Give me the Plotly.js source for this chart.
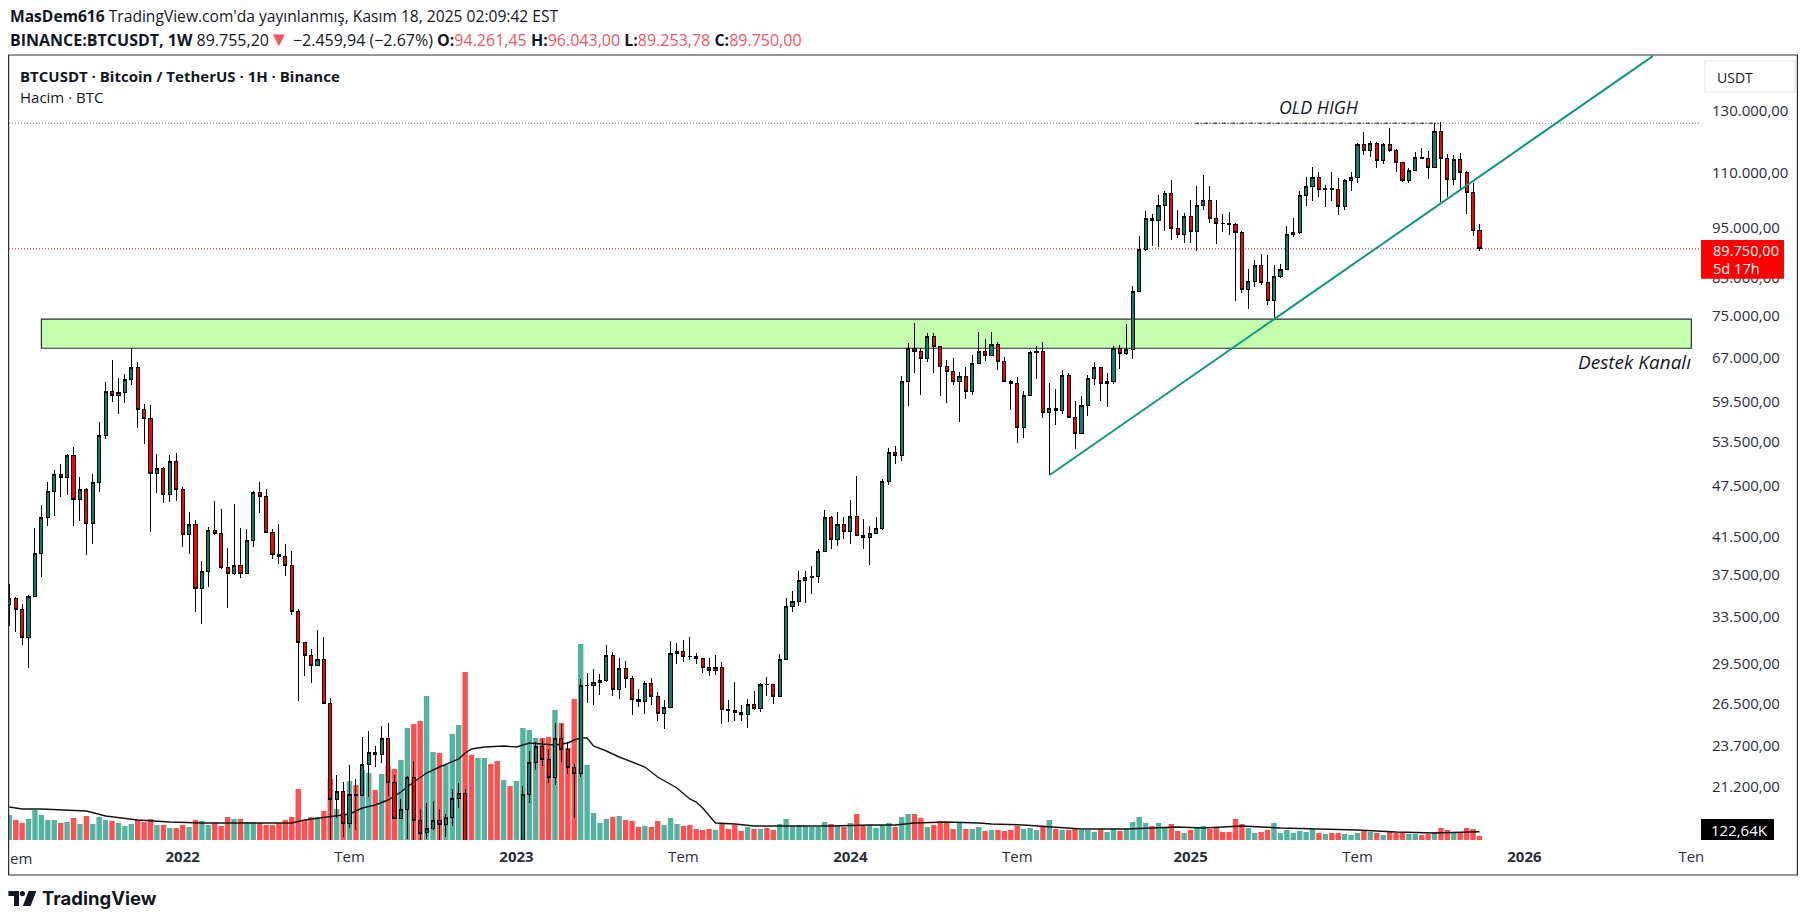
<!DOCTYPE html>
<html><head><meta charset="utf-8">
<script src="https://cdn.plot.ly/plotly-3.0.1.min.js"></script>
<style>html,body{margin:0;padding:0;background:#fff;overflow:hidden}#c{width:1806px;height:922px}.boxes path{shape-rendering:crispEdges}</style>
</head><body><div id="c"></div>
<script>
const firstWeek = '2021-06-28';
const opens = [34600,35170,34150,31670,35370,39680,43690,46850,49030,48630,
51610,45880,47100,43000,48020,54440,61250,60520,61000,63150,
65360,58320,56940,49170,49850,46480,50680,47100,41760,42880,
36120,37800,42190,41880,38200,37600,38340,37600,41080,46710,
46200,41950,39570,39360,38340,33930,31230,30180,29360,29870,
26500,20510,20960,19240,20800,20730,22520,23250,23100,24170,
21450,19500,19950,21770,19350,18760,18970,19400,19160,19520,
20560,20840,16340,16280,16440,17160,17100,16780,16830,16600,
17100,20780,22620,23610,22810,21750,24170,23450,22340,21950,
27830,27850,28060,28210,30160,27530,29140,28350,26820,26680,
27990,27030,25830,26250,30340,30500,30090,30050,29900,29220,
28960,29220,26110,26050,25880,25740,26460,26160,27920,27870,
27030,29860,34410,34880,36900,37200,37300,39880,43690,41190,
42870,42080,43810,41630,41410,41860,42420,48120,52010,51540,
62920,68730,68190,66910,70980,69110,65510,64630,62920,63770,
61260,66030,68190,67470,69480,66390,62920,62590,55620,60600,
68000,68100,57900,58520,58210,63940,57130,54730,59000,63430,
65330,62590,62800,68740,67830,68560,80100,89640,97410,96890,
100870,104160,94830,93320,97930,94070,100870,102220,97410,96120,
96000,95900,93820,80520,82260,85880,82040,78180,83370,84950,
93320,93820,103600,106130,108730,105300,105400,105300,100600,107860,
108730,118780,116880,119100,113790,118780,116880,113220,107870,110780,
114720,114500,111680,123000,114400,108150,114090,110210,104430,94261];
const highs = [36540,35300,34600,35500,42470,45170,48020,49640,50380,51740,
52790,48740,47240,49030,56390,62770,66700,63400,64110,68800,
66210,59180,59020,51740,49990,51610,51870,47360,44340,43350,
38860,42540,45680,44650,40200,45260,42470,42310,46850,48020,
47100,42310,42880,40630,39870,34150,31230,30680,32300,31700,
26940,21860,21500,22460,21680,24210,24640,23670,24950,25150,
21860,20550,21830,22710,19970,20330,20400,19970,19690,21060,
21430,21060,17200,16700,17300,18300,17300,17100,16970,17400,
21260,23340,23890,24140,23460,25150,25130,23890,22520,28280,
28740,29060,28670,31000,30440,29950,29680,28550,27540,28170,
28370,27330,26760,31330,31190,31410,31700,30370,29950,29930,
30210,29640,26760,28090,26410,26840,27420,28000,28470,27920,
30260,35190,35860,37800,37800,38310,40090,44510,43800,44280,
43690,45730,48810,43450,42650,43690,48380,52570,52850,63770,
69720,73500,68730,71550,71570,69200,66570,66980,64460,65390,
67470,71760,70480,71760,69860,67100,63090,63600,61260,68190,
69110,69860,62590,61580,64800,64280,59690,60440,63940,66210,
65400,64280,69110,69300,73300,81250,92900,99340,98460,103600,
104730,107860,99520,98720,102220,106130,109420,106130,102220,98460,
99020,96200,94100,84950,87040,88440,88220,85880,86100,95340,
97410,104730,108730,111690,110200,106420,110200,108440,108100,110200,
119100,122660,119750,119500,119100,123990,117200,113400,111390,116270,
117510,116580,125660,126200,115640,115330,115940,110500,106980,96043];
const lows = [32650,32080,30980,29190,35260,37270,42730,43840,46180,46440,
42730,43300,39530,40710,46810,53850,59550,57620,59360,62220,
55570,53230,41950,46650,45370,45510,45640,40390,39640,33930,
32860,36250,41650,38020,34280,37380,37100,37500,40390,44190,
41850,39100,38530,37340,33640,26710,28530,28040,29300,26450,
17600,19520,18560,18990,18890,20700,20630,22380,22600,20690,
19450,19460,18450,18300,18130,18440,18900,18200,18560,19100,
20040,15600,15800,15400,16000,16900,16300,16550,16300,16500,
17000,20330,22200,22400,21430,21310,22640,21920,19530,21800,
26560,26440,27130,28090,27060,26830,27610,25740,26300,25810,
26440,25330,24790,26240,29440,29670,29830,29440,28800,28570,
28660,25120,25260,25330,25330,24850,26090,25940,27080,26510,
27020,29860,33920,34470,34750,35600,36670,39880,40170,40490,
41260,40710,41530,40170,38480,41780,42190,47690,50410,50860,
58890,64400,60650,66270,64400,60490,59370,62350,56420,60010,
60690,65950,66450,67400,64860,62810,58270,53330,54060,60550,
63250,57030,48900,55920,57640,57100,52480,54580,57330,62250,
59690,58730,62410,64980,67470,66800,80000,89330,90520,90280,
94070,92000,92320,91260,91260,89170,99520,96120,91010,93820,
93240,78110,79810,76460,80950,81380,77140,74300,82930,84950,
92750,93320,100600,101950,103050,100330,101950,98200,99520,104930,
107190,115440,114720,111570,112570,116480,110400,107280,106980,110490,
114090,108340,111400,101850,103050,106420,105270,98620,92800,89254];
const closes = [35170,34150,31670,35370,39680,43690,46850,49030,48630,51610,
45880,47100,43000,48020,54440,61250,60520,61000,63150,65360,
58320,56940,49170,49850,46480,50680,47100,41760,42880,36120,
37800,42190,41880,38200,37600,38340,37600,41080,46710,46200,
41950,39570,39360,38340,33930,31230,30180,29360,29870,26500,
20510,20960,19240,20780,20730,22520,23250,23100,24170,21450,
19500,19950,21770,19350,18710,18970,19400,19160,19520,20560,
20840,16300,16280,16440,17160,17100,16780,16830,16600,17100,
20780,22620,23610,22810,21750,24170,23450,22340,21950,27830,
27850,28060,28210,30160,27530,29140,28350,26820,26680,27990,
27030,25830,26250,30340,30500,30090,30050,29900,29220,28960,
29220,26110,26050,25880,25740,26460,26160,27920,27870,27030,
29860,34410,34880,36900,37200,37300,39880,43690,41190,42870,
42080,43810,41630,41410,41860,42420,48120,52010,51540,62920,
68730,68190,66910,70980,69110,65510,64630,62920,63770,61260,
66030,68190,67470,69480,66390,62920,62590,55620,60600,68010,
68100,57900,58520,58210,63940,57130,54730,59000,63430,65330,
62590,62800,68740,67830,68560,80100,89640,97410,96890,100870,
104160,94830,93320,97930,94070,100870,102220,97410,96120,96000,
95900,93820,80520,82260,85880,82040,78180,83370,84950,93320,
93820,103600,106130,108730,105290,105400,105300,100600,107860,108730,
118780,116880,119100,113790,118780,116880,113220,107870,110780,114720,
114500,111680,123000,114400,108150,114090,110210,104430,94261,89750];
const volumeK = [375,300,255,315,450,375,300,300,255,270,
330,240,360,240,345,300,285,255,210,240,
300,270,315,225,225,180,180,225,195,300,
285,225,255,210,345,315,315,270,270,255,
225,225,255,300,345,765,300,345,345,435,
915,465,390,885,825,1050,1005,750,990,1110,
1065,1200,1680,1740,1785,2160,1320,1305,1125,1590,
1725,2520,1275,1230,1230,1140,1185,900,810,885,
1680,1650,1530,1530,1545,1950,1755,1380,2115,2940,
1125,405,255,315,345,360,300,285,195,210,
195,285,225,330,240,210,225,165,150,165,
150,240,165,225,135,195,165,165,180,150,
240,315,210,225,210,195,195,270,240,210,
195,255,390,210,225,180,225,255,195,345,
390,390,330,195,225,285,270,165,255,165,
165,195,135,150,150,135,150,210,165,180,
150,195,300,165,150,150,165,150,150,120,
165,120,165,135,165,270,345,255,210,255,
195,240,135,105,150,180,210,165,180,120,
120,315,240,180,105,120,150,255,105,150,
105,135,120,165,105,90,105,105,90,75,
105,135,120,105,75,120,105,105,90,90,
75,90,120,180,150,105,105,180,165,60];
const maWeek = [0,2,5,10,12,15,20,25,30,40,44,46,50,53,55,57,59,61,63,65,67,69,70,71,72,74,77,79,80,81,83,85,87,88,89,90,91,93,95,97,99,101,104,106,107,108,109,110,113,116,122,128,134,138,141,146,151,153,158,162,167,174,177,182,186,192,198,204,210,216,222,229];
const maK = [495,465,465,450,435,360,300,270,255,255,255,300,345,390,480,525,600,720,870,1005,1095,1170,1215,1305,1365,1395,1410,1395,1425,1455,1440,1425,1455,1500,1530,1530,1410,1335,1245,1170,1095,945,780,615,570,480,360,255,240,210,210,210,225,225,255,270,255,240,225,195,165,165,180,195,180,210,180,165,150,120,105,122.64];
const priceTicks = [130000,110000,95000,83000,75000,67000,59500,53500,47500,41500,37500,33500,29500,26500,23700,21200];
const priceTickText = ['130.000,00','110.000,00','95.000,00','83.000,00','75.000,00','67.000,00','59.500,00','53.500,00','47.500,00','41.500,00','37.500,00','33.500,00','29.500,00','26.500,00','23.700,00','21.200,00'];
const timeTicks = ['2022-01-03','2022-07-04','2023-01-02','2023-07-03','2024-01-01','2024-07-01','2025-01-06','2025-07-07','2026-01-05','2026-07-06'];
const timeTickText = ['<b>2022</b>','Tem','<b>2023</b>','Tem','<b>2024</b>','Tem','<b>2025</b>','Tem','<b>2026</b>','Ten'];
const oldHigh = 125700, lastPrice = 89750, zoneLow = 68750, zoneHigh = 74350;
const trendDates = ['2024-08-05','2026-05-25'], trendPrices = [48900,150500];

const UP='#07806d', DOWN='#ff0000', VUP='#53b3a0', VDOWN='#ff5050', INK='#131722', AXIS='#2a2e39', FONT='"Open Sans", sans-serif';
const dates = opens.map((_,i)=>{const d=new Date(firstWeek+'T00:00:00Z');d.setUTCDate(d.getUTCDate()+7*i);return d.toISOString().slice(0,10);});

const L=9,R=1700,T=55,B=840;
const X=p=>(p-L)/(R-L), Y=p=>(B-p)/(B-T);
const txt=(x,y,text,size,extra)=>Object.assign({xref:'paper',yref:'paper',x:X(x),y:Y(y),text,showarrow:false,xanchor:'left',yanchor:'middle',font:{family:FONT,size,color:INK},bgcolor:'rgba(0,0,0,0)',borderpad:0},extra||{});
const box=(x0,y0,x1,y1,fill,line,lw)=>({type:'rect',layer:'above',xref:'paper',yref:'paper',x0:X(x0),x1:X(x1),y0:Y(y0),y1:Y(y1),fillcolor:fill,line:{color:line||fill,width:lw===undefined?0:lw}});
const poly=(pts,fill)=>({type:'path',layer:'above',xref:'paper',yref:'paper',path:'M'+pts.map(p=>X(p[0])+','+Y(p[1])).join(' L')+' Z',fillcolor:fill,line:{width:0}});

const traces=[
 {type:'bar',x:dates,y:volumeK,xaxis:'x',yaxis:'y',marker:{color:opens.map((o,i)=>closes[i]>=o?VUP:VDOWN),line:{width:0}},hoverinfo:'skip'},
 {type:'scatter',mode:'lines',x:maWeek.map(i=>dates[i]),y:maK,xaxis:'x',yaxis:'y',line:{color:'#131313',width:1.4},hoverinfo:'skip'},
 {type:'candlestick',x:dates,open:opens,high:highs,low:lows,close:closes,xaxis:'x',yaxis:'y2',whiskerwidth:0,
  increasing:{line:{color:'#000',width:1},fillcolor:UP},decreasing:{line:{color:'#000',width:1},fillcolor:DOWN},hoverinfo:'skip'},
 {type:'scatter',mode:'lines',x:trendDates,y:trendPrices,xaxis:'x',yaxis:'y2',line:{color:'#089981',width:2},hoverinfo:'skip'}
];
const red='#f7525f';
const layout={width:1806,height:922,autosize:false,showlegend:false,paper_bgcolor:'#fff',plot_bgcolor:'#fff',
 margin:{l:L,r:1806-R,t:T,b:922-B,pad:0},bargap:0.16,dragmode:false,hovermode:false,
 xaxis:{type:'date',range:['2021-06-27 16:00','2026-07-15 11:00'],rangeslider:{visible:false},showgrid:false,zeroline:false,showline:false,
  tickmode:'array',tickvals:timeTicks,ticktext:timeTickText,ticks:'outside',ticklen:3,tickcolor:'rgba(0,0,0,0)',tickfont:{family:FONT,size:15,color:AXIS}},
 yaxis:{range:[0,11775],showgrid:false,zeroline:false,showline:false,showticklabels:false,ticks:'',fixedrange:true},
 yaxis2:{type:'log',overlaying:'y',side:'right',anchor:'x',range:[4.26452,5.1788],showgrid:false,zeroline:false,showline:false,
  tickmode:'array',tickvals:priceTicks,ticktext:priceTickText,ticks:'outside',ticklen:8,tickcolor:'rgba(0,0,0,0)',tickfont:{family:FONT,size:15,color:AXIS},fixedrange:true},
 shapes:[
  {type:'rect',layer:'below',xref:'x',yref:'y2',x0:'2021-08-02',x1:'2026-07-06',y0:zoneLow,y1:zoneHigh,fillcolor:'#c5ffae',line:{color:AXIS,width:1.2}},
  {type:'line',layer:'below',xref:'paper',yref:'y2',x0:0,x1:1,y0:oldHigh,y1:oldHigh,line:{color:'#787b86',width:1,dash:'1px,2px'}},
  {type:'line',layer:'below',xref:'paper',yref:'y2',x0:0,x1:1,y0:lastPrice,y1:lastPrice,line:{color:'#ff0000',width:1,dash:'1px,2px'}},
  {type:'line',layer:'above',xref:'x',yref:'y2',x0:'2025-01-11',x1:'2025-10-04',y0:oldHigh,y1:oldHigh,line:{color:'#131722',width:1,dash:'4px,2px,1px,2px'}},
  box(1705,61,1795,92,'#ffffff','#e8eaf0',1.2),
  box(1701,240,1784,278.7,'#ff0000'),
  box(1701,819,1774,840,'#000000'),
  box(8.6,55,1797.4,875,'rgba(0,0,0,0)',AXIS,1.2),
  poly([[8.4,891],[19,891],[19,906],[14,906],[14,896],[8.4,896]],'#131722'),
  {type:'circle',layer:'above',xref:'paper',yref:'paper',x0:X(19.8),x1:X(25),y0:Y(891),y1:Y(896.2),fillcolor:'#131722',line:{width:0}},
  poly([[28.6,891],[36.4,891],[30.6,906],[22.8,906]],'#131722')
 ],
 annotations:[
  txt(8.6,16.5,'<b>MasDem616</b> TradingView.com\'da yayınlanmış, Kasım 18, 2025 02:09:42 EST',15.6),
  txt(8.6,38.5,'<b>BINANCE:BTCUSDT, 1W</b> 89.755,20<span style="color:'+red+';font-size:20px">▼</span> −2.459,94 (−2.67%) <b>O:</b><span style="color:'+red+'">94.261,45</span> <b>H:</b><span style="color:'+red+'">96.043,00</span> <b>L:</b><span style="color:'+red+'">89.253,78</span> <b>C:</b><span style="color:'+red+'">89.750,00</span>',16),
  txt(19,75.5,'<b>BTCUSDT · Bitcoin / TetherUS · 1H · Binance</b>',15),
  txt(19,97,'Hacim · BTC',15),
  txt(1319,107.5,'<i>OLD HIGH</i>',17.8,{xanchor:'center'}),
  txt(1692,362,'<i>Destek Kanalı</i>',19,{xanchor:'right'}),
  txt(1716,77,'USDT',14),
  txt(1712,250,'89.750,00',14.6,{font:{family:FONT,size:14.6,color:'#fff'}}),
  txt(1712,267.5,'5d 17h',14.6,{font:{family:FONT,size:14.6,color:'#fff'}}),
  txt(1739,829.5,'122,64K',15,{xanchor:'center',font:{family:FONT,size:15,color:'#fff'}}),
  txt(9,858,'em',15,{font:{family:FONT,size:15,color:AXIS}}),
  txt(41,898,'<b>TradingView</b>',18.5,{font:{family:'Inter, sans-serif',size:18.5,color:'#131722'}})
 ]
};
Plotly.newPlot('c',traces,layout,{displayModeBar:false,staticPlot:true,responsive:false});
</script></body></html>
